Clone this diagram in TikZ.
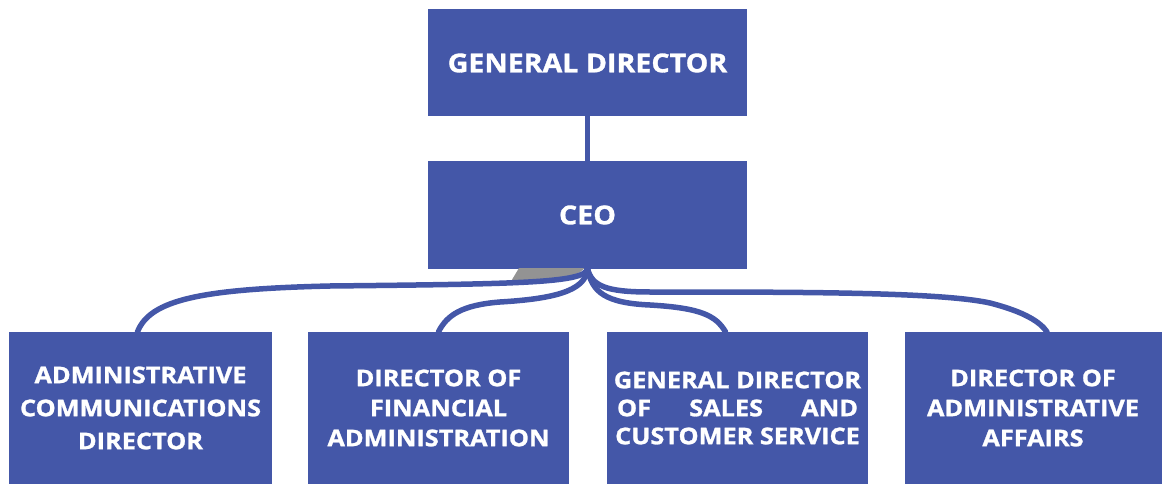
\documentclass[tikz,border=0pt]{standalone}
\usepackage{fontspec}
\setmainfont{Open Sans}[FakeStretch=1.1, BoldFeatures={FakeBold=1.2}]
\usepackage{xcolor}
\usetikzlibrary{positioning, calc}
\definecolor{boxblue}{RGB}{68,87,168}
\tikzset{
    post/.style={rectangle, fill=boxblue, text=white, inner sep=0pt,
        font=\fontsize{23}{30}\selectfont\bfseries, align=center},
    topbox/.style={post, minimum width=319, minimum height=107,
        font=\fontsize{26}{30}\selectfont\bfseries},
    unitbox/.style={post, minimum width=261, minimum height=152},
    link/.style={boxblue, line width=5.5pt, line cap=round}
}

\begin{document}
\begin{tikzpicture}[x=1pt, y=-1pt]
    \useasboundingbox (0,0) rectangle (1162,484);
    % Top of the chart
    \node[topbox] (gd) at (587.5,63) {GENERAL DIRECTOR};
    \node[topbox] (ceo) at (587.5,215) {CEO};
    \draw[link] (gd) -- (ceo);
    % Shadow under CEO
    \fill[gray!85] (519,268) -- (584,268) .. controls (580,278) and (540,281) .. (510,283) -- cycle;
    % Directors
    \node[unitbox, minimum width=263, font=\fontsize{23}{33}\selectfont\bfseries] (adm) at (140.5,408) {ADMINISTRATIVE\\COMMUNICATIONS\\DIRECTOR};
    \node[unitbox] (fin) at (438.5,408) {DIRECTOR OF\\FINANCIAL\\ADMINISTRATION};
    \node[unitbox, font=\fontsize{23}{28}\selectfont\bfseries] (sales) at (737.5,408) {GENERAL DIRECTOR\\\makebox[241pt][s]{OF SALES AND}\\CUSTOMER SERVICE};
    \node[unitbox, minimum width=257] (aff) at (1033,408) {DIRECTOR OF\\ADMINISTRATIVE\\AFFAIRS};
    % Curved links
    \draw[link] (ceo.south) .. controls (585,283) and (520,284) .. (330,286)
        .. controls (200,289) and (150,300) .. ([xshift=-3pt]adm.north);
    \draw[link] (ceo.south) .. controls (586,292) and (550,299) .. (500,302)
        .. controls (462,305) and (447,315) .. (fin.north);
    \draw[link] (ceo.south) .. controls (592,292) and (605,303) .. (650,305)
        .. controls (702,308) and (716,316) .. ([xshift=-12pt]sales.north);
    \draw[link] (ceo.south) .. controls (592,286) and (606,292) .. (650,292)
        .. controls (800,292) and (940,292) .. (990,303)
        .. controls (1025,312) and (1040,322) .. ([xshift=14pt]aff.north);
\end{tikzpicture}
\end{document}
